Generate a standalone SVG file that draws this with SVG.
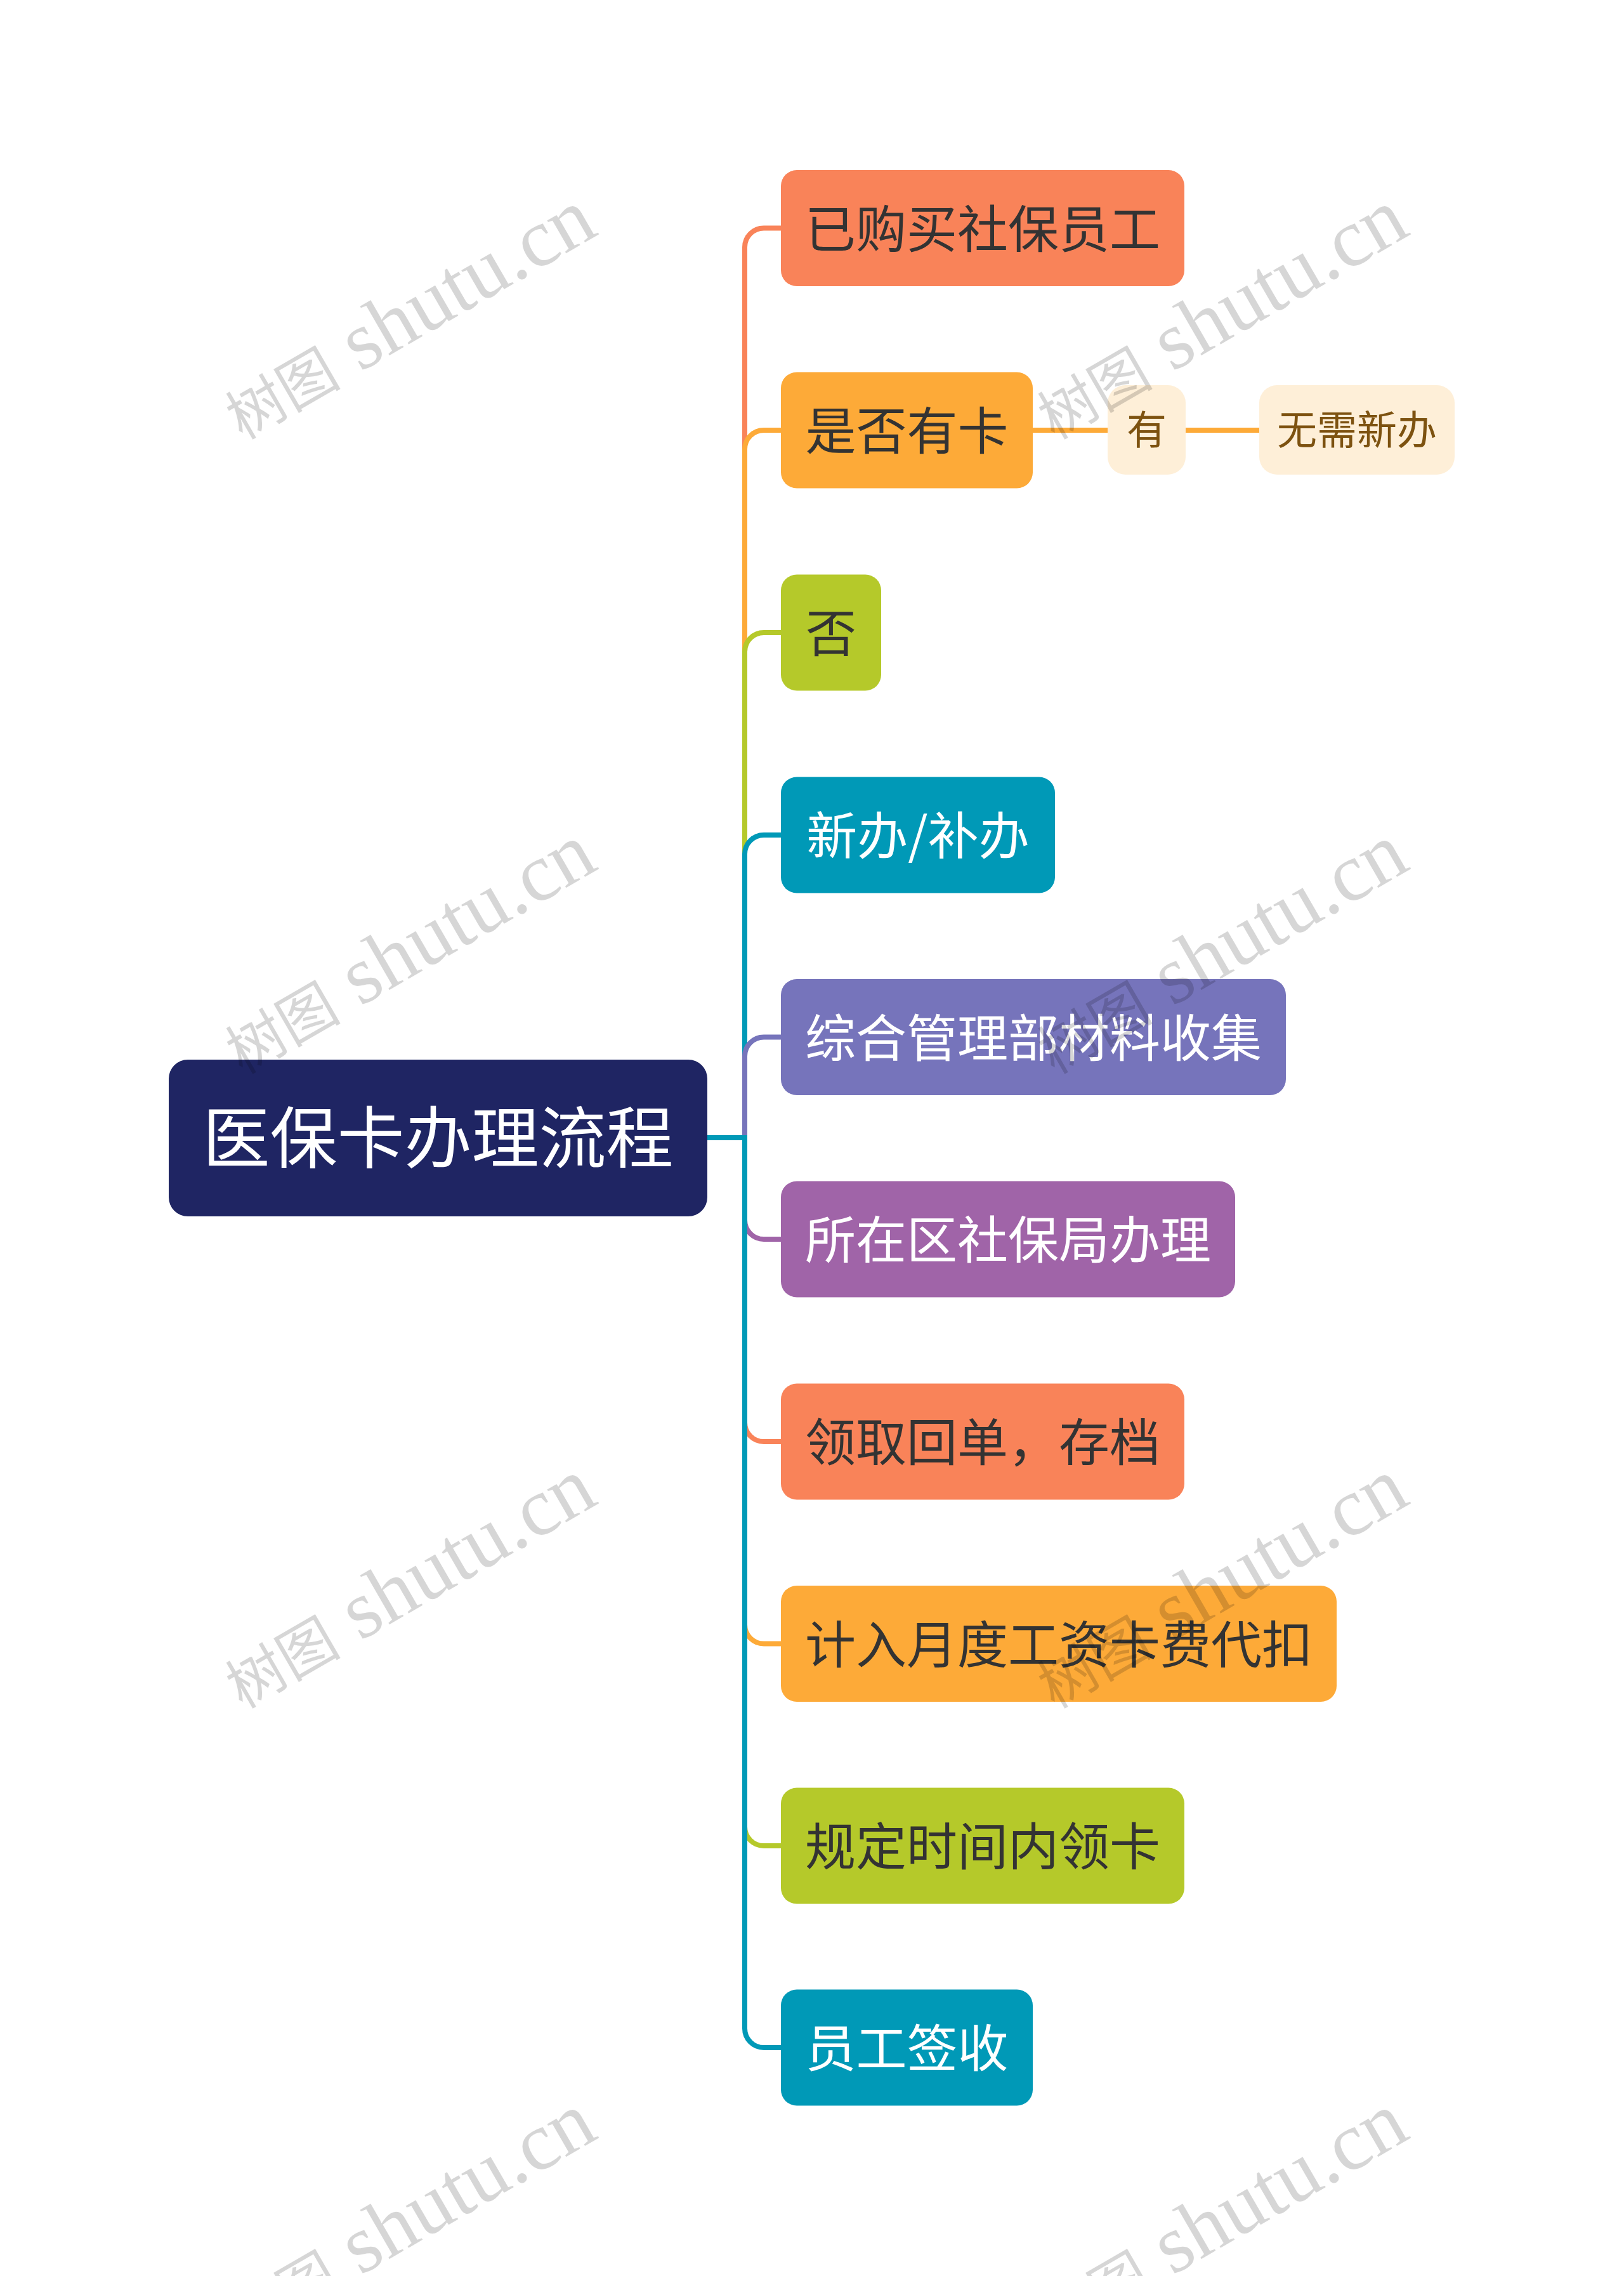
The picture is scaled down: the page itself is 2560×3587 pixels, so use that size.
<svg xmlns="http://www.w3.org/2000/svg" width="2560" height="3587" viewBox="0 0 2560 3587">
<style>
.t{font-family:"Noto Sans CJK SC","Noto Sans",sans-serif;font-size:80px;text-anchor:middle}
.dk{fill:#333333}
.wt{fill:#ffffff}
.sub{font-family:"Noto Sans CJK SC","Noto Sans",sans-serif;font-size:63px;text-anchor:middle;fill:#7d5210}
.root{font-family:"Noto Sans CJK SC","Noto Sans",sans-serif;font-size:106px;text-anchor:middle;fill:#ffffff}
.c{fill:none;stroke-width:8;stroke-linecap:butt}
.wm{font-family:"Liberation Serif","Noto Sans CJK SC",serif;font-size:130px;fill:#000;fill-opacity:0.16}
.wc{font-family:"Noto Sans CJK SC",serif;font-size:91px}
</style>
<rect width="2560" height="3587" fill="#ffffff"/>
<g id="connectors">
<path class="c" stroke="#F98359" d="M1115,1793 H1174 V389.5 A30,30 0 0 1 1204,359.5 H1231"/>
<path class="c" stroke="#FDAA38" d="M1115,1793 H1174 V708 A30,30 0 0 1 1204,678 H1231"/>
<path class="c" stroke="#B5C92A" d="M1115,1793 H1174 V1027 A30,30 0 0 1 1204,997 H1231"/>
<path class="c" stroke="#0099B7" d="M1115,1793 H1174 V1346 A30,30 0 0 1 1204,1316 H1231"/>
<path class="c" stroke="#7674BB" d="M1115,1793 H1174 V1664.5 A30,30 0 0 1 1204,1634.5 H1231"/>
<path class="c" stroke="#A064A8" d="M1115,1793 H1174 V1923 A30,30 0 0 0 1204,1953 H1231"/>
<path class="c" stroke="#F98359" d="M1115,1793 H1174 V2242 A30,30 0 0 0 1204,2272 H1231"/>
<path class="c" stroke="#FDAA38" d="M1115,1793 H1174 V2560.5 A30,30 0 0 0 1204,2590.5 H1231"/>
<path class="c" stroke="#B5C92A" d="M1115,1793 H1174 V2879 A30,30 0 0 0 1204,2909 H1231"/>
<path class="c" stroke="#0099B7" d="M1115,1793 H1174 V3197 A30,30 0 0 0 1204,3227 H1231"/>
<path class="c" stroke="#FDAA38" d="M1628,678 H1746"/>
<path class="c" stroke="#FDAA38" d="M1869,678 H1985"/>
</g>
<g id="root">
<rect x="266" y="1670" width="849" height="247" rx="30" fill="#1F2563"/>
<text class="root" x="690.5" y="1832">医保卡办理流程</text>
</g>
<g id="n1">
<rect x="1231" y="268" width="636" height="183" rx="25" fill="#F98359"/>
<text class="t dk" x="1549" y="389.5">已购买社保员工</text>
</g>
<g id="n2">
<rect x="1231" y="586.5" width="397" height="183" rx="25" fill="#FDAA38"/>
<text class="t dk" x="1429.5" y="708">是否有卡</text>
</g>
<g id="n2a">
<rect x="1746" y="607" width="123" height="141" rx="28" fill="#FEEFD8"/>
<text class="sub" x="1807.5" y="700">有</text>
</g>
<g id="n2b">
<rect x="1985" y="607" width="308" height="141" rx="28" fill="#FEEFD8"/>
<text class="sub" x="2139" y="700">无需新办</text>
</g>
<g id="n3">
<rect x="1231" y="905.5" width="158" height="183" rx="25" fill="#B5C92A"/>
<text class="t dk" x="1310" y="1027">否</text>
</g>
<g id="n4">
<rect x="1231" y="1224.5" width="432" height="183" rx="25" fill="#0099B7"/>
<text class="t wt" x="1447" y="1346">新办/补办</text>
</g>
<g id="n5">
<rect x="1231" y="1543" width="796" height="183" rx="25" fill="#7674BB"/>
<text class="t wt" x="1629" y="1664.5">综合管理部材料收集</text>
</g>
<g id="n6">
<rect x="1231" y="1861.5" width="716" height="183" rx="25" fill="#A064A8"/>
<text class="t wt" x="1589" y="1983">所在区社保局办理</text>
</g>
<g id="n7">
<rect x="1231" y="2180.5" width="636" height="183" rx="25" fill="#F98359"/>
<text class="t dk" x="1549" y="2302">领取回单，存档</text>
</g>
<g id="n8">
<rect x="1231" y="2499" width="876" height="183" rx="25" fill="#FDAA38"/>
<text class="t dk" x="1669" y="2620.5">计入月度工资卡费代扣</text>
</g>
<g id="n9">
<rect x="1231" y="2817.5" width="636" height="183" rx="25" fill="#B5C92A"/>
<text class="t dk" x="1549" y="2939">规定时间内领卡</text>
</g>
<g id="n10">
<rect x="1231" y="3135.5" width="397" height="183" rx="25" fill="#0099B7"/>
<text class="t wt" x="1429.5" y="3257">员工签收</text>
</g>
<g id="watermarks">
<text class="wm" transform="translate(382,694) rotate(-30)"><tspan class="wc">树图</tspan> shutu.cn</text>
<text class="wm" transform="translate(1662,694) rotate(-30)"><tspan class="wc">树图</tspan> shutu.cn</text>
<text class="wm" transform="translate(382,1694) rotate(-30)"><tspan class="wc">树图</tspan> shutu.cn</text>
<text class="wm" transform="translate(1662,1694) rotate(-30)"><tspan class="wc">树图</tspan> shutu.cn</text>
<text class="wm" transform="translate(382,2694) rotate(-30)"><tspan class="wc">树图</tspan> shutu.cn</text>
<text class="wm" transform="translate(1662,2694) rotate(-30)"><tspan class="wc">树图</tspan> shutu.cn</text>
<text class="wm" transform="translate(382,3694) rotate(-30)"><tspan class="wc">树图</tspan> shutu.cn</text>
<text class="wm" transform="translate(1662,3694) rotate(-30)"><tspan class="wc">树图</tspan> shutu.cn</text>
</g>
</svg>
